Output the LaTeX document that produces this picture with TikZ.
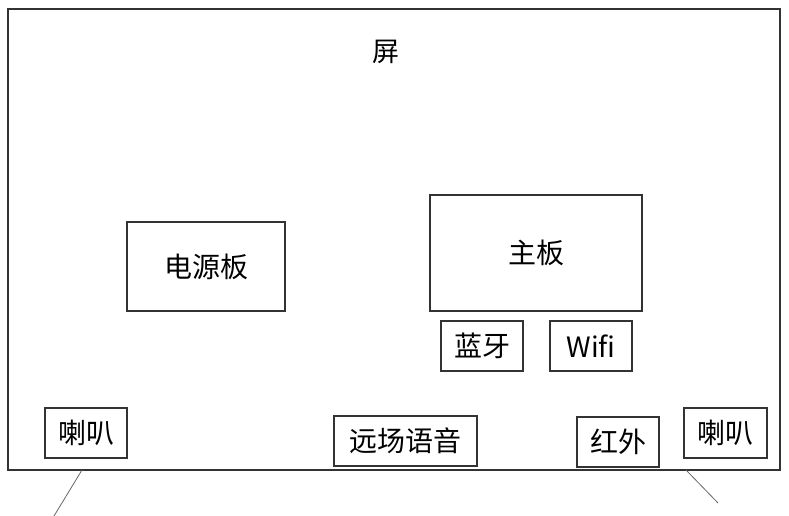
\documentclass[tikz,border=0pt]{standalone}
\usepackage{fontspec}
\setmainfont{Noto Sans CJK SC}
\begin{document}
\begin{tikzpicture}[x=1pt,y=-1pt,
  box/.style={draw=black!80,line width=1.3pt,inner sep=0pt,font=\fontsize{28}{31}\selectfont},
  lbl/.style={font=\fontsize{27}{30}\selectfont,inner sep=0pt}]
\useasboundingbox (0,0) rectangle (789,516);
\node[box,minimum width=772pt,minimum height=461pt] (screen) at (394,239.5) {};
\node[lbl] (title) at (386,52) {屏};
\node[box,minimum width=158pt,minimum height=89pt] (power) at (206,266.5) {电源板};
\node[box,minimum width=212pt,minimum height=116pt] (main) at (536,253) {主板};
\node[box,minimum width=82pt,minimum height=50pt] (bt) at (482,346) {蓝牙};
\node[box,minimum width=82pt,minimum height=50pt] (wifi) at (591,346) {Wifi};
\node[box,minimum width=82pt,minimum height=50pt] (spkL) at (86,433) {喇叭};
\node[box,minimum width=143pt,minimum height=50pt] (voice) at (405.5,441) {远场语音};
\node[box,minimum width=82pt,minimum height=50pt] (ir) at (618,442) {红外};
\node[box,minimum width=83pt,minimum height=50pt] (spkR) at (725.5,433) {喇叭};
\coordinate (a1) at (82,470);
\coordinate (a2) at (54,516);
\coordinate (b1) at (686,470);
\coordinate (b2) at (718,503);
\draw[black!60,line width=0.8pt] (a1) -- (a2);
\draw[black!60,line width=0.8pt] (b1) -- (b2);
\end{tikzpicture}
\end{document}
